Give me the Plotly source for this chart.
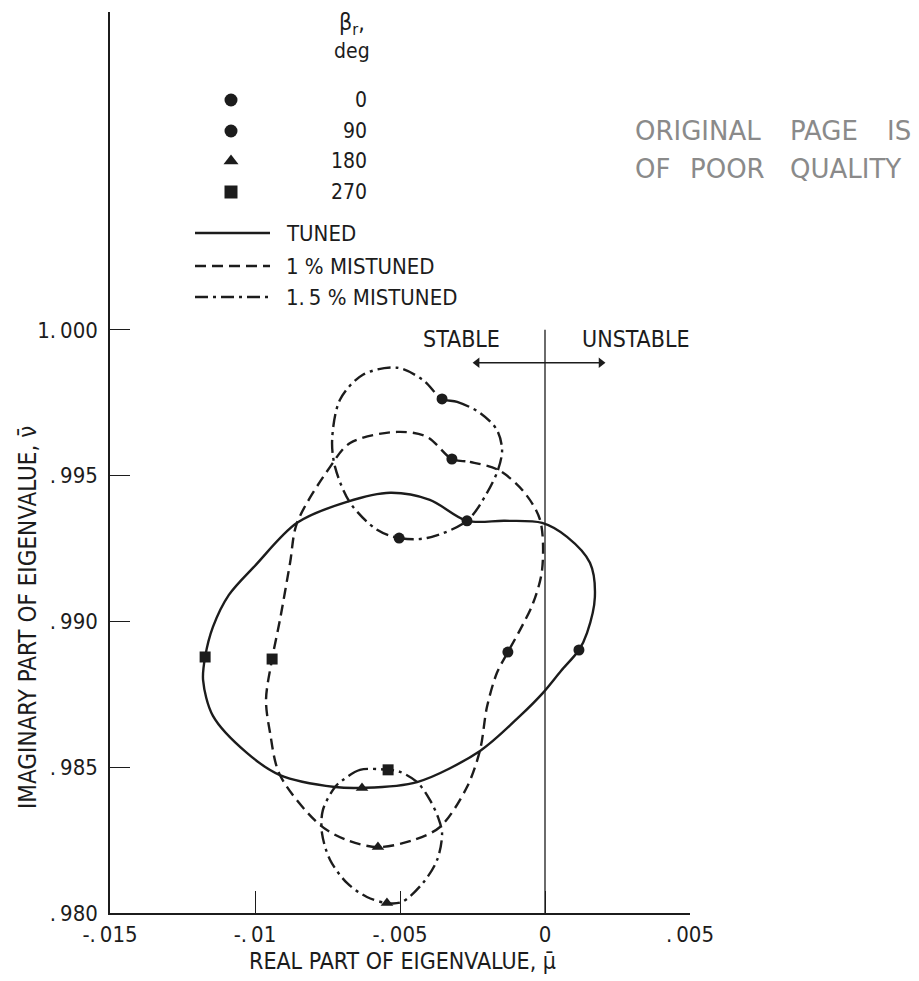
import plotly.graph_objects as go

# ---------------------------------------------------------------------------
# Eigenvalue loci (real part mu, imaginary part nu) for the blade row
# ---------------------------------------------------------------------------
tuned_mu = [-0.00269, -0.00138, -0.00010, 0.00076, 0.00155, 0.00172, 0.00145,
            0.00117, 0.00055, -0.00007, -0.00086, -0.00224, -0.00441, -0.00631,
            -0.00724, -0.00914, -0.01028, -0.01145, -0.01179, -0.01172, -0.01145,
            -0.01090, -0.00997, -0.00855, -0.00683, -0.00534, -0.00397, -0.00269]
tuned_nu = [0.99345, 0.99345, 0.99338, 0.99290, 0.99201, 0.99084, 0.98961,
            0.98902, 0.98830, 0.98755, 0.98676, 0.98556, 0.98449, 0.98429,
            0.98432, 0.98473, 0.98549, 0.98676, 0.98799, 0.98878, 0.98981,
            0.99091, 0.99194, 0.99338, 0.99410, 0.99441, 0.99417, 0.99345]

mis1_mu = [-0.00321, -0.00259, -0.00162, -0.00076, -0.00017, -0.00010, -0.00041,
           -0.00086, -0.00128, -0.00166, -0.00200, -0.00224, -0.00269, -0.00362,
           -0.00455, -0.00576, -0.00683, -0.00776, -0.00914, -0.00948, -0.00962,
           -0.00941, -0.00914, -0.00879, -0.00855, -0.00741, -0.00672, -0.00510,
           -0.00407, -0.00321]
mis1_nu = [0.99557, 0.99547, 0.99520, 0.99448, 0.99348, 0.99177, 0.99063,
           0.98971, 0.98895, 0.98823, 0.98707, 0.98559, 0.98432, 0.98295,
           0.98250, 0.98226, 0.98250, 0.98302, 0.98473, 0.98618, 0.98731,
           0.98871, 0.99005, 0.99201, 0.99338, 0.99530, 0.99612, 0.99650,
           0.99633, 0.99557]

# 1.5 % mistuned: upper and lower branches
mis15a_mu = [-0.00355, -0.00303, -0.00224, -0.00166, -0.00148, -0.00162, -0.00200,
             -0.00269, -0.00407, -0.00503, -0.00579, -0.00672, -0.00724, -0.00734,
             -0.00707, -0.00628, -0.00510, -0.00421, -0.00355]
mis15a_nu = [0.99763, 0.99753, 0.99715, 0.99657, 0.99588, 0.99520, 0.99441,
             0.99345, 0.99286, 0.99286, 0.99314, 0.99407, 0.99530, 0.99623,
             0.99760, 0.99846, 0.99870, 0.99828, 0.99763]
mis15b_mu = [-0.00541, -0.00638, -0.00697, -0.00724, -0.00766, -0.00769, -0.00741,
             -0.00683, -0.00614, -0.00545, -0.00493, -0.00421, -0.00372, -0.00355,
             -0.00369, -0.00397, -0.00441, -0.00500, -0.00541]
mis15b_nu = [0.98491, 0.98491, 0.98456, 0.98432, 0.98353, 0.98274, 0.98182,
             0.98103, 0.98055, 0.98034, 0.98038, 0.98103, 0.98182, 0.98274,
             0.98329, 0.98388, 0.98449, 0.98484, 0.98491]

# Points at interblade phase angles beta_r = 0, 90, 180, 270 deg
beta_deg = [0, 90, 180, 270]
beta_symbols = ["circle", "circle", "triangle-up", "square"]
tuned_pt_mu = [-0.00269, 0.00117, -0.00631, -0.01172]
tuned_pt_nu = [0.99345, 0.98902, 0.98429, 0.98878]
mis1_pt_mu = [-0.00321, -0.00128, -0.00576, -0.00941]
mis1_pt_nu = [0.99557, 0.98895, 0.98226, 0.98871]
mis15_pt_mu = [-0.00355, -0.00503, -0.00545, -0.00541]
mis15_pt_nu = [0.99763, 0.99286, 0.98034, 0.98491]

x_ticks = [-0.015, -0.01, -0.005, 0.0, 0.005]
x_ticktext = ["-.\u2009015", "-.\u200901", "-.\u2009005", "0", ".\u2009005"]
y_ticks = [0.980, 0.985, 0.990, 0.995, 1.000]
y_ticktext = [".\u2009980", ".\u2009985", ".\u2009990", ".\u2009995", "1.\u2009000"]

series_names = ["TUNED", "1 % MISTUNED", "1.\u20095 % MISTUNED"]
series_dash = ["solid", "11px,6px", "13px,5px,3px,5px"]

# Stable / unstable arrow
arrow_mu = [-0.00234, 0.00193]
arrow_nu = [0.99887, 0.99887]

# ---------------------------------------------------------------------------
W, H = 919, 981
PLOT_L, PLOT_R, PLOT_T, PLOT_B = 110, 690, 12, 913
INK = "#1c1c1c"
STAMP = "#8a8a8a"
FONT = "Liberation Sans Narrow, DejaVu Sans Condensed, Arial Narrow, sans-serif"
LW = 2.4

fig = go.Figure()

curves = [
    (tuned_mu, tuned_nu, series_dash[0]),
    (mis1_mu, mis1_nu, series_dash[1]),
    (mis15a_mu, mis15a_nu, series_dash[2]),
    (mis15b_mu, mis15b_nu, series_dash[2]),
]
for mu, nu, dash in curves:
    fig.add_trace(go.Scatter(
        x=mu, y=nu, mode="lines",
        line=dict(color=INK, width=LW, dash=dash, shape="spline", smoothing=0.9),
        showlegend=False, hoverinfo="skip"))

for mu, nu in [(tuned_pt_mu, tuned_pt_nu), (mis1_pt_mu, mis1_pt_nu),
               (mis15_pt_mu, mis15_pt_nu)]:
    fig.add_trace(go.Scatter(
        x=mu, y=nu, mode="markers", text=[str(b) for b in beta_deg],
        marker=dict(symbol=beta_symbols, size=11, color=INK, line=dict(width=0)),
        showlegend=False))

# double-headed arrow between STABLE and UNSTABLE
fig.add_trace(go.Scatter(
    x=arrow_mu, y=arrow_nu, mode="lines+markers",
    line=dict(color=INK, width=1.4),
    marker=dict(symbol=["triangle-left", "triangle-right"], size=9, color=INK),
    showlegend=False, hoverinfo="skip"))

# Key drawn on a page-pixel overlay (x: 0..W, y: 0..H downward)
key_rows_y = [100, 131, 161, 192]
fig.add_trace(go.Scatter(
    x=[231] * len(beta_deg), y=key_rows_y, mode="markers",
    marker=dict(symbol=beta_symbols, size=13, color=INK, line=dict(width=0)),
    xaxis="x2", yaxis="y2", showlegend=False, hoverinfo="skip"))
key_lines_y = [233, 266, 297]
for yy, dash in zip(key_lines_y, series_dash):
    fig.add_trace(go.Scatter(
        x=[195, 270], y=[yy, yy], mode="lines",
        line=dict(color=INK, width=LW, dash=dash),
        xaxis="x2", yaxis="y2", showlegend=False, hoverinfo="skip"))

ann = []


def page_text(x, y, text, size=21, xanchor="center", color=INK, family=FONT, angle=0):
    ann.append(dict(x=x, y=y, xref="x2", yref="y2", text=text, showarrow=False,
                    xanchor=xanchor, yanchor="middle", textangle=angle,
                    font=dict(family=family, size=size, color=color)))


page_text(352, 24, "\u03b2<sub>r</sub>,", size=23)
page_text(352, 51, "deg", size=21)
for yy, b in zip(key_rows_y, beta_deg):
    page_text(369, yy, str(b), size=21, xanchor="right")
for yy, name in zip(key_lines_y, series_names):
    page_text(284, yy, name, size=22, xanchor="left")

page_text(461, 339, "STABLE", size=23)
page_text(636, 339, "UNSTABLE", size=23)

page_text(28, 618, "IMAGINARY PART OF EIGENVALUE, \u03bd\u0304", size=24, angle=-90)
page_text(402, 961, "REAL PART OF EIGENVALUE, \u03bc\u0304", size=23)

# stamp in the upper right corner
for x, y, word in [(633, 131, "ORIGINAL"), (788, 131, "PAGE"), (885, 131, "IS"),
                   (633, 169, "OF"), (688, 169, "POOR"), (788, 169, "QUALITY")]:
    page_text(x, y, word, size=26, xanchor="left", color=STAMP,
              family="DejaVu Sans, sans-serif")

shapes = [dict(type="line", xref="x", yref="y", x0=0, x1=0, y0=0.980, y1=1.000,
               line=dict(color=INK, width=1.3))]

fig.update_layout(
    template="none",
    width=W, height=H,
    margin=dict(l=0, r=0, t=0, b=0, pad=0, autoexpand=False),
    paper_bgcolor="white", plot_bgcolor="rgba(0,0,0,0)",
    font=dict(family=FONT, color=INK),
    annotations=ann, shapes=shapes,
    xaxis=dict(domain=[PLOT_L / W, PLOT_R / W], range=[-0.015, 0.005],
               tickvals=x_ticks, ticktext=x_ticktext, ticks="inside", ticklen=22,
               tickwidth=1.3, tickcolor=INK, showline=True, linecolor=INK,
               linewidth=1.5, showgrid=False, zeroline=False, automargin=False,
               tickfont=dict(size=22, family=FONT, color=INK),
               ticklabelstandoff=1, anchor="y"),
    yaxis=dict(domain=[1 - PLOT_B / H, 1 - PLOT_T / H], range=[0.980, 1.0109],
               tickvals=y_ticks, ticktext=y_ticktext, ticks="inside", ticklen=20,
               tickwidth=1.3, tickcolor=INK, showline=True, linecolor=INK,
               linewidth=1.5, showgrid=False, zeroline=False, automargin=False,
               tickfont=dict(size=22, family=FONT, color=INK),
               ticklabelstandoff=6, anchor="x"),
    xaxis2=dict(domain=[0, 1], range=[0, W], visible=False, anchor="y2",
                fixedrange=True, automargin=False),
    yaxis2=dict(domain=[0, 1], range=[H, 0], visible=False, anchor="x2",
                fixedrange=True, automargin=False),
)

fig.write_html("out.html")
